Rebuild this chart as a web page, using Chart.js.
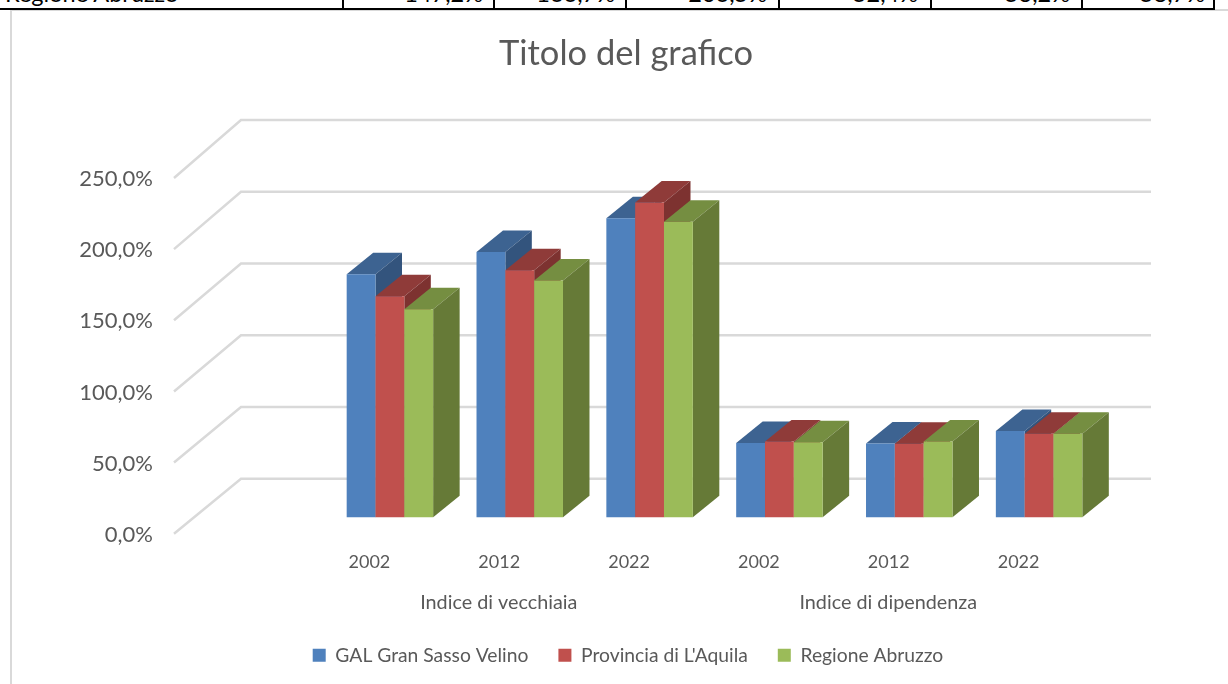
<!DOCTYPE html>
<html>
<head>
<meta charset="utf-8">
<title>Titolo del grafico</title>
<script src="https://cdn.jsdelivr.net/npm/chart.js@4/dist/chart.umd.min.js"></script>
<style>
  html, body { margin: 0; padding: 0; background: #fff; overflow: hidden; }
  #page { position: relative; width: 1228px; height: 684px; overflow: hidden; }
  #frame { position: absolute; left: 10px; top: 9px; right: -10px; bottom: -10px; border: 2px solid #d9d9d9; }
  #rule { position: absolute; left: 0; top: 8px; width: 1215px; height: 2px; background: #000; }
  .edge { position: absolute; top: 0; width: 2px; height: 9px; background: #000; }
  .cell { position: absolute; top: -20px; font: 23.5px/26px Lato, sans-serif; color: #000; white-space: nowrap; }
  canvas { position: absolute; left: 0; top: 0; }
</style>
</head>
<body>
<div id="page">
  <div id="frame"></div>
  <div id="rule"></div>
  <canvas id="chart" width="1228" height="684"></canvas>
</div>
<script>
const years = ['2002', '2012', '2022', '2002', '2012', '2022'];
const groups = ['Indice di vecchiaia', 'Indice di dipendenza'];
const seriesNames = ['GAL Gran Sasso Velino', 'Provincia di L\'Aquila', 'Regione Abruzzo'];

const galValues = [170.8, 186.4, 210.1, 52.1, 51.8, 60.5];
const provinciaValues = [155.3, 173.6, 221.1, 53.2, 51.6, 58.6];
const regioneValues = [146.2, 166.3, 207.7, 52.7, 53.2, 58.6];

const frontColors = ['#4F81BD', '#C0504D', '#9BBB59'];
const topColors = ['#3D6391', '#8F3B39', '#758E41'];
const sideColors = ['#33547D', '#7D3230', '#667A37'];

// strip of the table above the chart, cut off by the top of the page
const tableRow = ['147,2%', '166,7%', '206,5%', '52,4%', '53,2%', '58,7%'];
const tableEdges = [343, 494, 626, 779, 931, 1082, 1214];
const tableRights = [483, 615, 767, 918, 1070, 1205];

const page = document.getElementById('page');
tableEdges.forEach(x => {
  const d = document.createElement('div');
  d.className = 'edge';
  d.style.left = (x - 1) + 'px';
  page.insertBefore(d, page.lastElementChild);
});
tableRow.forEach((t, i) => {
  const d = document.createElement('div');
  d.className = 'cell';
  d.style.right = (1228 - tableRights[i]) + 'px';
  d.textContent = t;
  page.insertBefore(d, page.lastElementChild);
});
const rowName = document.createElement('div');
rowName.className = 'cell';
rowName.style.left = '5px';
rowName.textContent = 'Regione Abruzzo';
page.insertBefore(rowName, page.lastElementChild);

const depthX = 26.5;
const depthY = 21.5;
const frontLift = 16.5;   // front edge of the floor sits below the bars' baseline
const wallX = 241;
const frontX = 174;
const wallRight = 1151;

const wall3d = {
  id: 'wall3d',
  afterLayout(chart) {
    chart.legend.left += 4;
  },
  beforeDatasetsDraw(chart) {
    const { ctx, scales } = chart;
    ctx.save();
    ctx.strokeStyle = '#d9d9d9';
    ctx.lineWidth = 2.5;
    scales.y.ticks.forEach(t => {
      const front = scales.y.getPixelForValue(t.value) + frontLift;
      const back = scales.yBack.getPixelForValue(t.value);
      ctx.beginPath();
      ctx.moveTo(frontX, front);
      ctx.lineTo(wallX, back);
      ctx.lineTo(wallRight, back);
      ctx.stroke();
    });

    // left to right, so each bar's faces cover the neighbour's side
    chart.data.datasets.forEach((ds, i) => {
      chart.getDatasetMeta(i).data.forEach(bar => {
        const { x, y, base, width } = bar.getProps(['x', 'y', 'base', 'width']);
        const l = x - width / 2;
        const r = x + width / 2;
        ctx.fillStyle = topColors[i];
        ctx.beginPath();
        ctx.moveTo(l, y);
        ctx.lineTo(l + depthX, y - depthY);
        ctx.lineTo(r + depthX, y - depthY);
        ctx.lineTo(r, y);
        ctx.closePath();
        ctx.fill();
        ctx.fillStyle = sideColors[i];
        ctx.beginPath();
        ctx.moveTo(r, y);
        ctx.lineTo(r + depthX, y - depthY);
        ctx.lineTo(r + depthX, base - depthY);
        ctx.lineTo(r, base);
        ctx.closePath();
        ctx.fill();
        bar.draw(ctx);
      });
    });
    ctx.restore();
    return false;
  }
};

new Chart(document.getElementById('chart'), {
  type: 'bar',
  plugins: [wall3d],
  data: {
    labels: years,
    datasets: [
      { label: seriesNames[0], data: galValues, backgroundColor: frontColors[0] },
      { label: seriesNames[1], data: provinciaValues, backgroundColor: frontColors[1] },
      { label: seriesNames[2], data: regioneValues, backgroundColor: frontColors[2] }
    ]
  },
  options: {
    responsive: false,
    animation: false,
    layout: { padding: { left: 24, right: 0, top: 0, bottom: 9 } },
    datasets: { bar: { categoryPercentage: 0.666, barPercentage: 1 } },
    scales: {
      x: {
        grid: { display: false, drawTicks: false },
        border: { display: false },
        afterFit(scale) { scale.height = 65.5; },
        ticks: {
          color: '#595959',
          font: { family: 'Lato', size: 18 },
          labelOffset: -20.5,
          padding: 34.5,
          maxRotation: 0,
          autoSkip: false
        }
      },
      x2: {
        type: 'category',
        axis: 'x',
        position: 'bottom',
        offset: true,
        labels: groups,
        grid: { display: false, drawTicks: false },
        border: { display: false },
        afterFit(scale) { scale.height = 33; },
        ticks: {
          color: '#595959',
          font: { family: 'Lato', size: 19.8 },
          labelOffset: -21,
          padding: 8,
          maxRotation: 0
        }
      },
      y: {
        min: 0,
        max: 250,
        grid: { display: false },
        border: { display: false },
        afterFit(scale) {
          scale.width = 301;
          scale.paddingTop = 0;
          scale.paddingBottom = 0;
        },
        ticks: {
          stepSize: 50,
          color: '#595959',
          font: { family: 'Lato', size: 22 },
          padding: 164,
          labelOffset: frontLift + 1,
          callback: v => v.toFixed(1).replace('.', ',') + '%'
        }
      },
      // back wall of the 3D box, also holds the empty space on the right
      yBack: {
        axis: 'y',
        position: 'right',
        min: -26.8,
        max: 221.1,
        grid: { display: false, drawTicks: false },
        border: { display: false },
        ticks: { display: false },
        afterFit(scale) { scale.width = 124; }
      }
    },
    plugins: {
      title: {
        display: true,
        text: 'Titolo del grafico',
        color: '#595959',
        font: { family: 'Lato', size: 34.5, weight: 'normal' },
        padding: { top: 33, bottom: 87.1 }
      },
      legend: {
        position: 'bottom',
        labels: {
          color: '#595959',
          font: { family: 'Lato', size: 19.3 },
          boxWidth: 13,
          boxHeight: 13,
          padding: 30
        }
      },
      tooltip: { enabled: false }
    }
  }
});
</script>
</body>
</html>
